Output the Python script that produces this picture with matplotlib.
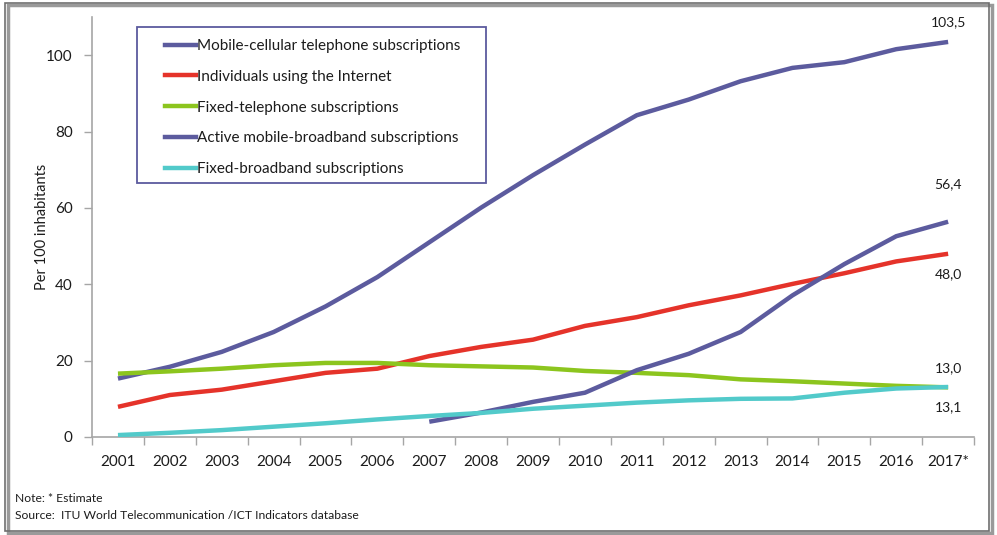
import matplotlib
matplotlib.use("Agg")
import matplotlib.pyplot as plt
from matplotlib.patches import Rectangle
from matplotlib.lines import Line2D

years = ["2001", "2002", "2003", "2004", "2005", "2006", "2007", "2008", "2009",
         "2010", "2011", "2012", "2013", "2014", "2015", "2016", "2017*"]

mobile_cellular = [15.3, 18.4, 22.3, 27.5, 34.2, 41.9, 51.0, 60.1, 68.6, 76.6,
                   84.3, 88.4, 93.2, 96.7, 98.2, 101.6, 103.5]
internet_users = [7.9, 11.0, 12.4, 14.6, 16.8, 17.9, 21.2, 23.6, 25.5, 29.1,
                  31.4, 34.5, 37.1, 40.1, 42.9, 46.0, 48.0]
fixed_telephone = [16.6, 17.2, 17.9, 18.8, 19.4, 19.4, 18.8, 18.5, 18.2, 17.3,
                   16.8, 16.2, 15.1, 14.6, 14.0, 13.4, 13.0]
mobile_broadband_years = ["2007", "2008", "2009", "2010", "2011", "2012",
                          "2013", "2014", "2015", "2016", "2017*"]
mobile_broadband = [4.0, 6.4, 9.2, 11.6, 17.5, 21.8, 27.5, 37.1, 45.3, 52.6, 56.4]
fixed_broadband = [0.5, 1.1, 1.8, 2.7, 3.6, 4.6, 5.5, 6.3, 7.4, 8.2,
                   9.0, 9.6, 10.0, 10.1, 11.6, 12.7, 13.1]

end_labels = ["103,5", "56,4", "48,0", "13,0", "13,1"]

plt.rcParams['font.family'] = ['Lato', 'DejaVu Sans']

PURPLE = "#5C5B9E"
RED = "#E5332A"
GREEN = "#8CC51E"
CYAN = "#52CACA"
TXT = "#1c1c1c"
AXC = "#A6A6A6"

fig = plt.figure(figsize=(9.97, 5.35), dpi=100)
ax = fig.add_axes([0.0923, 0.1832, 0.8847, 0.7848])

x_all = list(range(len(years)))
x_mb = [years.index(y) for y in mobile_broadband_years]
lw = 3.2
ax.plot(x_all, mobile_cellular, color=PURPLE, lw=lw, solid_capstyle='butt', zorder=3)
ax.plot(x_all, internet_users, color=RED, lw=lw, solid_capstyle='butt', zorder=3)
ax.plot(x_all, fixed_telephone, color=GREEN, lw=lw, solid_capstyle='butt', zorder=3)
ax.plot(x_mb, mobile_broadband, color=PURPLE, lw=lw, solid_capstyle='butt', zorder=3)
ax.plot(x_all, fixed_broadband, color=CYAN, lw=lw, solid_capstyle='butt', zorder=3)

# End labels
last = len(years) - 1
label_specs = [
    (mobile_cellular[-1], end_labels[0], 14),
    (mobile_broadband[-1], end_labels[1], 27),
    (internet_users[-1], end_labels[2], -15),
    (fixed_telephone[-1], end_labels[3], 14),
    (fixed_broadband[-1], end_labels[4], -14.5),
]
for val, txt, dy in label_specs:
    ax.annotate(txt, xy=(last, val), xytext=(0, dy), textcoords='offset points',
                ha='center', va='center', fontsize=10, color=TXT)

ax.set_xlim(-0.5, len(years) - 0.5)
ax.set_ylim(0, 110)
ax.set_yticks([0, 20, 40, 60, 80, 100])
ax.set_xticks(x_all)
ax.set_xticklabels(years)
ax.set_xticks([i - 0.5 for i in range(len(years) + 1)], minor=True)
ax.tick_params(axis='x', which='major', length=0, pad=13, labelsize=11, labelcolor=TXT)
ax.tick_params(axis='x', which='minor', length=6, direction='out', color=AXC, width=1)
ax.tick_params(axis='y', which='major', length=6, direction='out', color=AXC, width=1,
               pad=8, labelsize=11, labelcolor=TXT)

for s in ['top', 'right']:
    ax.spines[s].set_visible(False)
for s in ['left', 'bottom']:
    ax.spines[s].set_color(AXC)
    ax.spines[s].set_linewidth(1.2)

ax.set_ylabel("Per 100 inhabitants", fontsize=10.5, color=TXT, labelpad=-2)

# Legend (frame drawn separately)
ax.add_patch(Rectangle((0.051, 0.605), 0.3957, 0.371, transform=ax.transAxes,
                       fill=True, facecolor='white', edgecolor=PURPLE, lw=1.3, zorder=4))
handles = [Line2D([], [], color=c, lw=3.2) for c in [PURPLE, RED, GREEN, PURPLE, CYAN]]
labels = ["Mobile-cellular telephone subscriptions", "Individuals using the Internet",
          "Fixed-telephone subscriptions", "Active mobile-broadband subscriptions",
          "Fixed-broadband subscriptions"]
leg = ax.legend(handles, labels, loc='upper left', bbox_to_anchor=(0.0828, 0.948),
                fontsize=11, frameon=False, handlelength=2.0,
                handletextpad=0.1, labelspacing=1.1, borderpad=0,
                borderaxespad=0)
leg.set_zorder(5)
for t in leg.get_texts():
    t.set_color(TXT)

# Notes
fig.text(0.015, 0.069, "Note: * Estimate", fontsize=8.7, color=TXT, va='center')
fig.text(0.015, 0.037, "Source:  ITU World Telecommunication /ICT Indicators database",
         fontsize=8.7, color=TXT, va='center')

# Outer frame with shadow
fig.patches.append(Rectangle((0.008, 0.004), 0.987, 0.986, transform=fig.transFigure,
                             fill=False, edgecolor="#9a9a9a", lw=2.5, zorder=0))
fig.patches.append(Rectangle((0.005, 0.008), 0.987, 0.986, transform=fig.transFigure,
                             fill=False, edgecolor="#6f6f6f", lw=1.2, zorder=1))

fig.savefig("out.png", dpi=100)
